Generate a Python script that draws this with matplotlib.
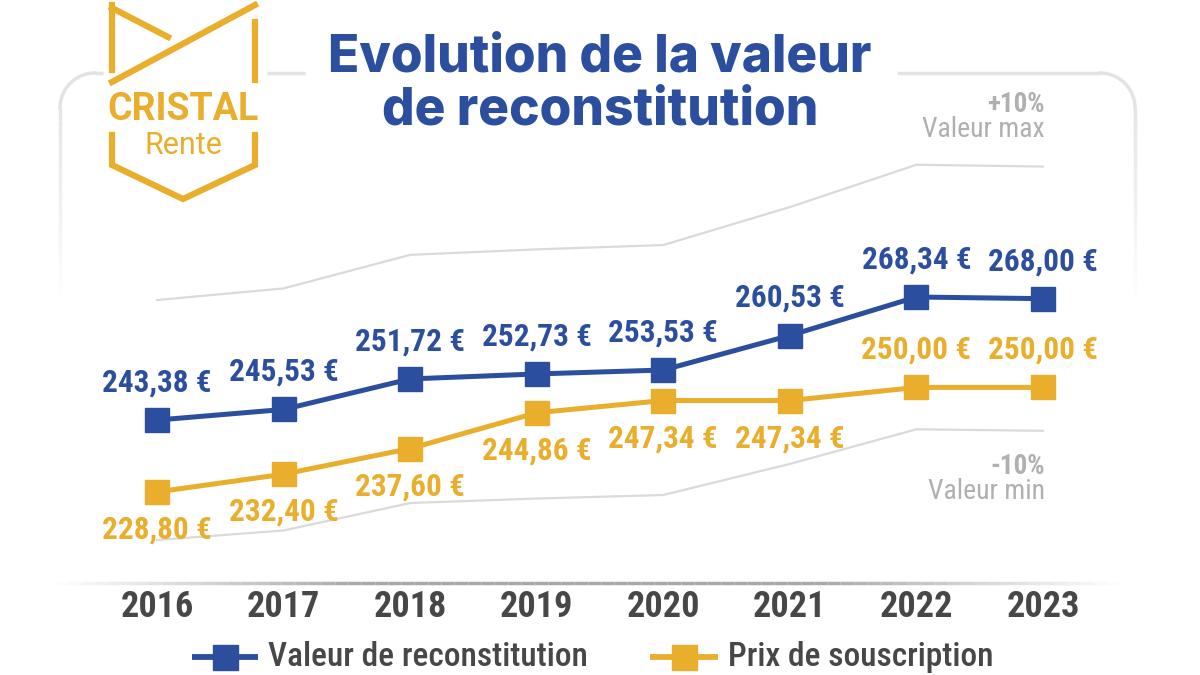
import matplotlib
matplotlib.use("Agg")
import matplotlib.pyplot as plt
import matplotlib.transforms as mtransforms
import numpy as np
from matplotlib import font_manager
from matplotlib.collections import LineCollection

years = [2016, 2017, 2018, 2019, 2020, 2021, 2022, 2023]
valeur = [243.38, 245.53, 251.72, 252.73, 253.53, 260.53, 268.34, 268.00]
prix = [228.80, 232.40, 237.60, 244.86, 247.34, 247.34, 250.00, 250.00]
# +10% / -10% band around the reconstitution value
valeur_max = [267.72, 270.08, 276.89, 278.00, 278.88, 286.58, 295.17, 294.80]
valeur_min = [219.04, 220.98, 226.55, 227.46, 228.18, 234.48, 241.51, 241.20]
prix_label_above = [False, False, False, False, False, False, True, True]

BLUE = "#2b4f9e"
GOLD = "#e8ae2c"
DARK = "#474747"
GREY = "#b0b0b0"
FRAME = "#e3e3e3"

W, H = 1200, 675


def pick_narrow():
    names = {f.name for f in font_manager.fontManager.ttflist}
    for fam in ["Roboto Condensed", "Liberation Sans Narrow", "Open Sans Condensed"]:
        if fam in names:
            return dict(family=fam)
    return dict(family="DejaVu Sans", stretch="condensed")


NARROW = pick_narrow()


def fmt(v):
    return f"{v:.2f}".replace(".", ",") + " €"


def fading_line(ax, x0, y0, x1, y1, color, lw, alpha_fn, n=80):
    t = np.linspace(0, 1, n + 1)
    xs = x0 + (x1 - x0) * t
    ys = y0 + (y1 - y0) * t
    segs = [[(xs[i], ys[i]), (xs[i + 1], ys[i + 1])] for i in range(n)]
    rgba = matplotlib.colors.to_rgba(color)
    cols = [(rgba[0], rgba[1], rgba[2], alpha_fn((i + 0.5) / n)) for i in range(n)]
    ax.add_collection(LineCollection(segs, colors=cols, linewidths=lw, capstyle="butt"))


fig = plt.figure(figsize=(12, 6.75), dpi=100)

# pixel overlay for decoration
deco = fig.add_axes([0, 0, 1, 1])
deco.set_xlim(0, W)
deco.set_ylim(H, 0)
deco.axis("off")

# rounded frame behind the title (top edge with gaps, fading sides)
r = 35
top = 73
for xa, xb in [(95, 103), (267, 305), (897, 1100)]:
    deco.plot([xa, xb], [top, top], color=FRAME, lw=2.5, solid_capstyle="butt")
th = np.linspace(0, np.pi / 2, 30)
deco.plot(95 - r * np.sin(th), top + r - r * np.cos(th), color=FRAME, lw=2.5)
deco.plot(1100 + r * np.sin(th), top + r - r * np.cos(th), color=FRAME, lw=2.5)
for x0 in (60, 1135):
    fading_line(deco, x0, top + r, x0, 300, FRAME, 2.5, lambda t: 1 - t)

# baseline under the chart, fading at both ends
fading_line(deco, 55, 583, 1120, 583, "#a8a8a8", 2.5,
            lambda t: min(1.0, 3.5 * min(t, 1 - t)))

# logo
lw_logo = 4.5
deco.plot([112, 112], [5, 70], color=GOLD, lw=lw_logo)
deco.plot([112, 168], [8, 37], color=GOLD, lw=lw_logo)
deco.plot([112, 255], [82, 5], color=GOLD, lw=lw_logo)
deco.plot([255, 255], [22, 80], color=GOLD, lw=lw_logo)
deco.plot([112, 112, 183, 255, 255], [135, 165, 199, 165, 135], color=GOLD, lw=lw_logo,
          solid_joinstyle="miter")
deco.text(183, 110, "CRISTAL", color=GOLD, fontsize=27, fontweight="bold",
          ha="center", va="center", family="Roboto")
deco.text(183, 146, "Rente", color=GOLD, fontsize=22, ha="center", va="center",
          family="Roboto")

# title
fig.text(600 / W, 1 - 58 / H, "Evolution de la valeur", color=BLUE, fontsize=37,
         fontweight="heavy", ha="center", va="center", family="Inter")
fig.text(600 / W, 1 - 111 / H, "de reconstitution", color=BLUE, fontsize=37,
         fontweight="heavy", ha="center", va="center", family="Inter")

# main chart axes: map years and values onto the pixel layout
ax = fig.add_axes([0, 0, 1, 1])
ax.patch.set_alpha(0)
ax.axis("off")
px_x = (1043 - 157) / 7
pad = 157 / px_x
ax.set_xlim(2016 - pad, 2023 + pad)
px_y = 4.93
ax.set_ylim(268.34 - (H - 297) / px_y, 268.34 + 297 / px_y)

ax.plot(years, valeur_max, color="#dadada", lw=1.6)
ax.plot(years, valeur_min, color="#dadada", lw=1.6)

ax.plot(years, prix, color=GOLD, lw=3.6, marker="s", ms=17, zorder=3)
ax.plot(years, valeur, color=BLUE, lw=3.6, marker="s", ms=17, zorder=4)

for x, v in zip(years, valeur):
    ax.annotate(fmt(v), (x, v), xytext=(0, 27), textcoords="offset points",
                ha="center", va="center", color=BLUE, fontsize=22.5,
                fontweight="bold", **NARROW)
for x, v, above in zip(years, prix, prix_label_above):
    ax.annotate(fmt(v), (x, v), xytext=(0, 27 if above else -27),
                textcoords="offset points", ha="center", va="center",
                color=GOLD, fontsize=22.5, fontweight="bold", **NARROW)

# band annotations
xr = 2023 + 2 / px_x
ax.text(xr, valeur_max[-1] + 62 / px_y, "+10%", ha="right", va="center",
        color=GREY, fontsize=19.5, fontweight="bold", **NARROW)
ax.text(xr, valeur_max[-1] + 37 / px_y, "Valeur max", ha="right",
        va="center", color=GREY, fontsize=20, **NARROW)
ax.text(xr, valeur_min[-1] - 36 / px_y, "-10%", ha="right", va="center",
        color=GREY, fontsize=19.5, fontweight="bold", **NARROW)
ax.text(xr, valeur_min[-1] - 61 / px_y, "Valeur min", ha="right",
        va="center", color=GREY, fontsize=20, **NARROW)

# year labels
trans = mtransforms.blended_transform_factory(ax.transData, fig.transFigure)
for x in years:
    ax.text(x, 1 - 607 / H, str(x), transform=trans, ha="center", va="center",
            color=DARK, fontsize=26, fontweight="bold", **NARROW)

# legend
ly = 657
deco.plot([192, 258], [ly, ly], color=BLUE, lw=4.2, solid_capstyle="butt")
deco.plot([225], [ly], color=BLUE, marker="s", ms=18, lw=0)
deco.text(268, ly, "Valeur de reconstitution", color=DARK, fontsize=24,
          ha="left", va="center", fontweight="medium", **NARROW)
deco.plot([650, 718], [ly, ly], color=GOLD, lw=4.2, solid_capstyle="butt")
deco.plot([684], [ly], color=GOLD, marker="s", ms=18, lw=0)
deco.text(728, ly, "Prix de souscription", color=DARK, fontsize=24,
          ha="left", va="center", fontweight="medium", **NARROW)

fig.savefig("out.png", dpi=100)
